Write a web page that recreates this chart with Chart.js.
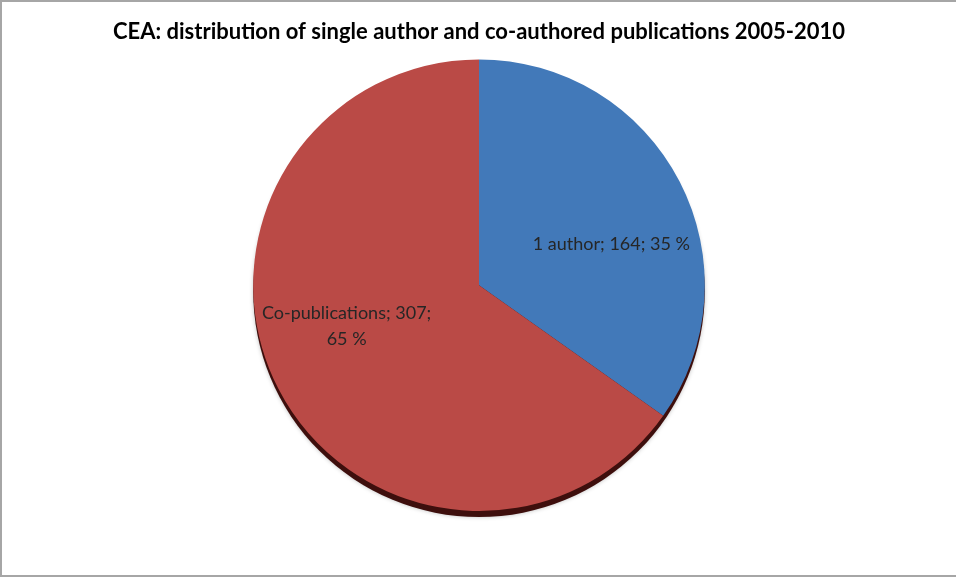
<!DOCTYPE html>
<html>
<head>
<meta charset="utf-8">
<script src="https://cdn.jsdelivr.net/npm/chart.js@4/dist/chart.umd.min.js"></script>
<style>
  body { margin: 0; background: #fff; }
  #wrap {
    width: 954px; height: 573px;
    border-top: 2px solid #a6a6a6;
    border-left: 2px solid #a6a6a6;
    border-bottom: 2px solid #a6a6a6;
  }
</style>
</head>
<body>
<div id="wrap"><canvas id="myChart" width="954" height="573"></canvas></div>
<script>
const categories = ['1 author', 'Co-publications'];
const counts = [164, 307];
const percents = [35, 65];
const colours = ['#4279b9', '#ba4a46'];

// draws the dark rim under the pie, like the 3D edge in the original
const rimPlugin = {
  id: 'rim',
  beforeDatasetsDraw(chart) {
    const arc = chart.getDatasetMeta(0).data[0];
    if (!arc) return;
    const ctx = chart.ctx;
    ctx.save();
    ctx.fillStyle = '#3e0f0d';
    ctx.shadowColor = 'rgba(0,0,0,0.25)';
    ctx.shadowBlur = 4;
    ctx.beginPath();
    ctx.arc(arc.x, arc.y + 6, arc.outerRadius, 0, Math.PI * 2);
    ctx.fill();
    ctx.restore();
  }
};

const labelPlugin = {
  id: 'sliceLabels',
  afterDatasetsDraw(chart, args, opts) {
    const ctx = chart.ctx;
    const meta = chart.getDatasetMeta(0);
    ctx.save();
    ctx.font = opts.font;
    ctx.fillStyle = opts.color;
    ctx.textAlign = 'center';
    ctx.textBaseline = 'middle';
    meta.data.forEach((arc, i) => {
      const mid = (arc.startAngle + arc.endAngle) / 2;
      const x = arc.x + Math.cos(mid) * arc.outerRadius * opts.kx;
      const y = arc.y + Math.sin(mid) * arc.outerRadius * opts.ky;
      const text = categories[i] + '; ' + counts[i] + '; ' + percents[i] + ' %';
      const words = text.split(' ');
      const lines = [];
      let line = '';
      words.forEach(w => {
        const test = line ? line + ' ' + w : w;
        if (ctx.measureText(test).width > opts.maxWidth && line) {
          lines.push(line);
          line = w;
        } else {
          line = test;
        }
      });
      lines.push(line);
      const y0 = y - (lines.length - 1) * opts.lineHeight / 2;
      lines.forEach((l, j) => ctx.fillText(l, x, y0 + j * opts.lineHeight));
    });
    ctx.restore();
  }
};

const myChart = new Chart(document.getElementById('myChart'), {
  type: 'pie',
  data: {
    labels: categories,
    datasets: [{
      data: counts,
      backgroundColor: colours,
      borderWidth: 0
    }]
  },
  options: {
    responsive: false,
    animation: false,
    layout: { padding: { top: 0, bottom: 64, left: 0, right: 0 } },
    plugins: {
      legend: { display: false },
      tooltip: { enabled: false },
      title: {
        display: true,
        text: 'CEA: distribution of single author and co-authored publications 2005-2010',
        color: '#000',
        font: { family: 'Lato', size: 22, weight: 'bold' },
        padding: { top: 17, bottom: 14 }
      },
      sliceLabels: {
        font: '18px Lato',
        color: '#262626',
        kx: 0.66,
        ky: 0.4,
        maxWidth: 185,
        lineHeight: 26
      }
    }
  },
  plugins: [rimPlugin, labelPlugin]
});
</script>
</body>
</html>
